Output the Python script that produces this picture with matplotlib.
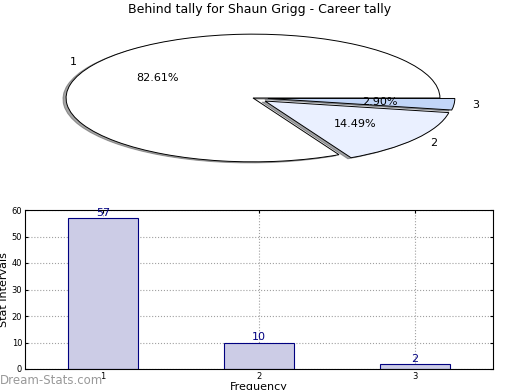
import matplotlib
matplotlib.use('Agg')
import matplotlib.pyplot as plt

title = 'Behind tally for Shaun Grigg - Career tally'
pie_labels = ['1', '2', '3']
pie_values = [57, 10, 2]
pie_colors = ['#ffffff', '#eaf0ff', '#c2d6f8']
pie_explode = [0, 0.08, 0.08]

bar_x = [1, 2, 3]
bar_values = [57, 10, 2]
yticks = [0, 10, 20, 30, 40, 50, 60]

fig = plt.figure(figsize=(5.2, 3.9), dpi=100)

# pie: ellipse, drawn in an axes with auto aspect
ax1 = fig.add_axes([10 / 520, 209 / 390, 486 / 520, 166 / 390])
ax1.pie(pie_values, labels=pie_labels, colors=pie_colors, explode=pie_explode,
        autopct='%1.2f%%', shadow={'ox': -0.012, 'oy': -0.012},
        startangle=0,
        wedgeprops={'edgecolor': 'black', 'linewidth': 0.7},
        textprops={'fontsize': 8})
ax1.set_aspect('auto')
ax1.set_xlim(-1.3, 1.3)
ax1.set_ylim(-1.3, 1.3)
ax1.axis('off')
fig.text(0.5, 1 - 10 / 390, title, ha='center', va='center', fontsize=9)

# bars
ax2 = fig.add_axes([25 / 520, 21 / 390, 468 / 520, 159 / 390])
ax2.bar(bar_x, bar_values, width=0.45, color='#cccce6',
        edgecolor='#000080', linewidth=0.8, zorder=2)
for x, v in zip(bar_x, bar_values):
    ax2.text(x, v, str(v), ha='center', va='bottom', fontsize=8,
             color='#000080', zorder=3)
ax2.set_xlim(0.5, 3.5)
ax2.set_ylim(0, 60)
ax2.set_xticks(bar_x)
ax2.set_yticks(yticks)
ax2.tick_params(labelsize=6, direction='in', length=2, top=True, right=True, pad=2)
ax2.grid(True, linestyle=':', color='#a0a0a0', linewidth=0.8, zorder=0)
ax2.set_ylabel('Stat Intervals', fontsize=8, labelpad=2)
ax2.set_xlabel('Frequency', fontsize=8, labelpad=1)
fig.text(0.0, 1 - 381 / 390, 'Dream-Stats.com', ha='left', va='center',
         fontsize=8.5, color='#999999')

fig.savefig('out.png', dpi=100)
